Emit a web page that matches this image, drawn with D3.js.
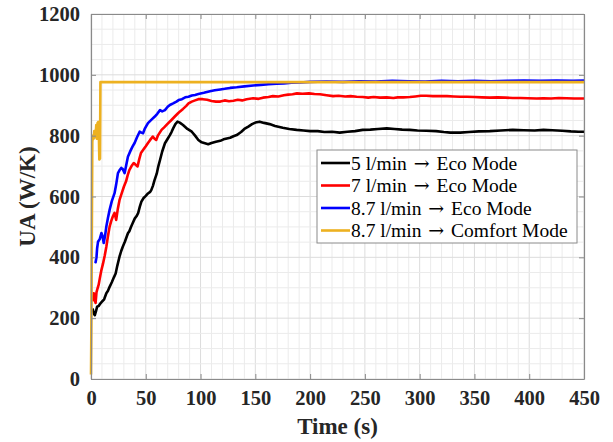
<!DOCTYPE html>
<html>
<head>
<meta charset="utf-8">
<script src="https://cdn.jsdelivr.net/npm/d3@7"></script>
<style>
  body { margin: 0; background: #fff; }
  svg { display: block; }
</style>
</head>
<body>
<svg id="chart" width="613" height="442"></svg>
<script>
// series values, [time (s), UA (W/K)]
const eco5 = [[1.5,232],[2.5,215],[3.5,210],[4.5,222],[5.6,238],[7,240],[8.5,248],[10,254],[12,262],[14,282],[15.5,290],[17,303],[19,318],[21,335],[22.5,347],[24,372],[26,402],[27.5,420],[29,435],[31,452],[33.7,479],[35,486],[36.5,500],[38,512],[40,528],[41.5,535],[43,545],[44.5,566],[46,583],[48,595],[50,602],[52,610],[54,615],[55,621],[56.5,635],[58,654],[60,675],[61.5,700],[63,720],[65,748],[67.5,775],[70,790],[72,802],[73.5,812],[75,824],[77,838],[79,846],[81,843],[84,835],[88,822],[92,813],[95,800],[98,786],[101,778],[104,775],[107,772],[110,776],[114,780],[118,783],[121,788],[124,791],[127,793],[130,798],[133,802],[137,812],[140,822],[143.6,830],[147,838],[150,843],[154,846],[158,842],[163,838],[168,832],[175,826],[181,822],[187.7,819],[194,817],[200,815],[207,815],[213,812],[220,813],[227,810],[234,813],[241,815],[248,819],[255,820],[262,822],[270,824],[277,822],[284,820],[291,819],[298,817],[306,816],[315,815],[322,812],[328,810],[337,810],[345,812],[354,814],[364,815],[374,817],[385,819],[395,818],[405,817],[413,819],[421,818],[430,816],[438,814],[445,813],[450,813]];

const eco7 = [[1.5,255],[2.5,282],[3.3,260],[4.2,250],[5,285],[5.6,293],[7,310],[8,330],[9.5,358],[11,380],[12.5,405],[14,435],[15.5,470],[17,501],[18.5,520],[20,535],[21.5,546],[23,523],[24.5,560],[26,588],[28,610],[30,632],[32,650],[33.5,670],[35,687],[37,700],[39,710],[40.5,705],[42.5,699],[44,722],[45.6,743],[48,755],[50,765],[52,776],[54,786],[56.4,797],[58,790],[59.5,786],[61,800],[64.4,819],[67,828],[70.5,841],[73,850],[76.5,863],[79,872],[81,879],[84,888],[87,898],[89,906],[92,912],[95,916],[98,920],[102,920],[106,918],[110,914],[114,912],[118,912],[122,916],[126,913],[130,915],[134,918],[138,916],[142,920],[148,923],[153,921],[157,925],[162,927],[166,930],[171,929],[176,933],[180,935],[184,936],[188,939],[193,938],[199,939],[204,937],[209,936],[215,933],[221,930],[226,931],[232,929],[237,930],[242.5,928],[248,927],[253,925],[258,927],[263.8,925],[270,926],[276,924],[280,926],[285,926],[291,927],[296,929],[301,931],[306,931],[312,930],[318,930],[325,930],[331,929],[337,928],[343,928],[350,927],[357,926],[364,925],[371,926],[378,925],[385,924],[392,924],[399,923],[406.8,922],[413,923],[420,922],[427,924],[434,923],[441,922],[450,922]];

const eco87 = [[3.3,386],[4.2,384],[5,400],[5.6,430],[6.4,451],[8,460],[9.5,480],[10.5,470],[11.6,447],[12.8,470],[14,501],[15.5,530],[17,556],[19,585],[21.5,611],[23,640],[24.6,677],[26,686],[27.6,694],[29,690],[30.7,677],[32,700],[33.7,731],[36,750],[38,765],[39.8,776],[42,795],[44.4,813],[46,810],[47.5,808],[49,822],[52,841],[55,852],[58,862],[60.5,872],[63,884],[65,880],[67.5,884],[70,895],[72,901],[75,906],[78,912],[80,917],[83,920],[86,926],[89,928],[92,932],[95,934],[98,937],[103,941],[108.6,946],[113,949],[118,952],[122,954],[127,957],[133,959],[140,962],[148,965],[155,967],[162,969],[169.5,971],[176,972],[183,974],[191,975],[200,977],[215,978],[230,977],[245,979],[260,978],[275,980],[290,979],[305,978],[320,980],[335,979],[350,980],[365,979],[380,980],[395,981],[410,980],[425,981],[440,980],[450,981]];

const comfort87 = [[0,15],[0.4,200],[0.8,500],[1.2,780],[1.8,800],[2.4,790],[3,815],[3.6,795],[4.2,800],[4.8,835],[5.4,790],[6,842],[6.6,845],[7.2,800],[7.6,722],[8.2,725],[8.6,976],[450,976]];

const seriesNames = ['5 l/min', '7 l/min', '8.7 l/min', '8.7 l/min'];
const seriesModes = ['Eco Mode', 'Eco Mode', 'Eco Mode', 'Comfort Mode'];
const seriesColors = ['#000000', '#ff0000', '#0000ff', '#edb120'];
const seriesData = [eco5, eco7, eco87, comfort87];

const xTicks = [0, 50, 100, 150, 200, 250, 300, 350, 400, 450];
const yTicks = [0, 200, 400, 600, 800, 1000, 1200];

const margin = {left: 91, right: 29, top: 14, bottom: 63};
const width = 613, height = 442;
const svg = d3.select('#chart');
const serif = '"Liberation Serif", "Times New Roman", serif';

const x = d3.scaleLinear().domain([0, 450]).range([margin.left, width - margin.right]);
const y = d3.scaleLinear().domain([0, 1200]).range([height - margin.bottom, margin.top]);

// grid, minor then major
const grid = svg.append('g');
grid.selectAll('line.xgrid')
    .data(d3.range(0, 451, 10))
    .enter().append('line')
    .attr('x1', d => x(d)).attr('x2', d => x(d))
    .attr('y1', y(0)).attr('y2', y(1200))
    .attr('stroke', d => d % 50 === 0 ? '#dcdcdc' : '#ebebeb')
    .attr('stroke-width', 1)
grid.selectAll('line.ygrid')
    .data(d3.range(0, 1201, 50))
    .enter().append('line')
    .attr('y1', d => y(d)).attr('y2', d => y(d))
    .attr('x1', x(0)).attr('x2', x(450))
    .attr('stroke', d => d % 200 === 0 ? '#dcdcdc' : '#ebebeb')
    .attr('stroke-width', 1)

// lines
const line = d3.line().x(d => x(d[0])).y(d => y(d[1]));
svg.append('g')
    .selectAll('path')
    .data(seriesData)
    .enter().append('path')
    .attr('d', d => line(d))
    .attr('fill', 'none')
    .attr('stroke', (d, i) => seriesColors[i])
    .attr('stroke-width', 2.6)
    .attr('stroke-linejoin', 'round')

// axes, ticks inward on all four sides
const axisColor = '#8a8a8a';
const axes = [
    {gen: d3.axisBottom(x), tr: `translate(0,${y(0)})`, ticks: xTicks, labels: true},
    {gen: d3.axisTop(x), tr: `translate(0,${y(1200)})`, ticks: xTicks, labels: false},
    {gen: d3.axisLeft(y), tr: `translate(${x(0)},0)`, ticks: yTicks, labels: true},
    {gen: d3.axisRight(y), tr: `translate(${x(450)},0)`, ticks: yTicks, labels: false}
]
axes.forEach(a => {
    const g = svg.append('g')
        .attr('transform', a.tr)
        .call(a.gen.tickValues(a.ticks).tickSizeInner(-5).tickSizeOuter(0).tickPadding(a.labels ? 11 : 0)
            .tickFormat(a.labels ? d3.format('d') : ''))
    g.select('.domain').attr('stroke', axisColor).attr('stroke-width', 1.2)
    g.selectAll('.tick line').attr('stroke', axisColor)
    g.selectAll('.tick text')
        .attr('fill', '#262626')
        .style('font-family', serif)
        .style('font-weight', 'bold')
        .style('font-size', '20.5px')
})

// axis titles
svg.append('text')
    .attr('x', (x(0) + x(450)) / 2)
    .attr('y', 434)
    .attr('text-anchor', 'middle')
    .attr('fill', '#262626')
    .style('font-family', serif)
    .style('font-weight', 'bold')
    .style('font-size', '23px')
    .text('Time (s)')

svg.append('text')
    .attr('transform', `translate(35,${(y(0) + y(1200)) / 2}) rotate(-90)`)
    .attr('text-anchor', 'middle')
    .attr('fill', '#262626')
    .style('font-family', serif)
    .style('font-weight', 'bold')
    .style('font-size', '23px')
    .text('UA (W/K)')

// legend
const lg = svg.append('g').attr('transform', 'translate(317,150)')
lg.append('rect')
    .attr('width', 260).attr('height', 93)
    .attr('fill', '#fff')
    .attr('stroke', '#8a8a8a')
    .attr('stroke-width', 1)
const rows = lg.selectAll('g.row')
    .data(seriesNames)
    .enter().append('g')
    .attr('transform', (d, i) => `translate(0,${13 + i * 22.5})`)
rows.append('line')
    .attr('x1', 4).attr('x2', 33)
    .attr('stroke', (d, i) => seriesColors[i])
    .attr('stroke-width', 2.6)
const txt = rows.append('text')
    .attr('x', 34)
    .attr('y', 6.5)
    .attr('fill', '#000')
    .style('font-family', serif)
    .style('font-size', '19.5px')
txt.append('tspan').text(d => d + ' ')
txt.append('tspan')
    .style('font-family', '"DejaVu Serif", serif')
    .style('font-size', '19px')
    .attr('dx', 2)
    .text('\u2192')
txt.append('tspan').attr('dx', 2).text((d, i) => ' ' + seriesModes[i])
</script>
</body>
</html>
